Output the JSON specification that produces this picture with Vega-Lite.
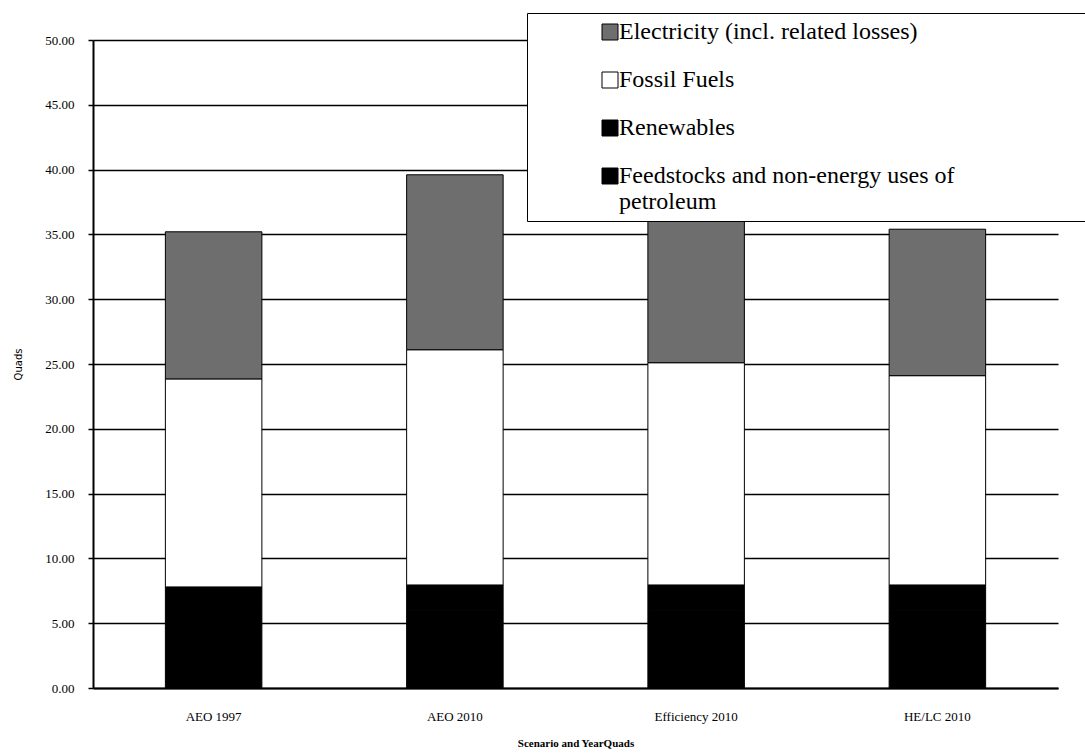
{
  "$schema": "https://vega.github.io/schema/vega-lite/v6.json",
  "width": 965,
  "height": 648,
  "autosize": "none",
  "padding": {"left": 93, "top": 40, "right": 27, "bottom": 68},
  "background": "white",
  "data": {
    "values": [
      {"scenario": "AEO 1997", "source": "Feedstocks and non-energy uses of petroleum", "stack": 1, "quads": 5.9},
      {"scenario": "AEO 1997", "source": "Renewables", "stack": 2, "quads": 1.9},
      {"scenario": "AEO 1997", "source": "Fossil Fuels", "stack": 3, "quads": 16.05},
      {"scenario": "AEO 1997", "source": "Electricity (incl. related losses)", "stack": 4, "quads": 11.35},
      {"scenario": "AEO 2010", "source": "Feedstocks and non-energy uses of petroleum", "stack": 1, "quads": 6.0},
      {"scenario": "AEO 2010", "source": "Renewables", "stack": 2, "quads": 1.95},
      {"scenario": "AEO 2010", "source": "Fossil Fuels", "stack": 3, "quads": 18.15},
      {"scenario": "AEO 2010", "source": "Electricity (incl. related losses)", "stack": 4, "quads": 13.5},
      {"scenario": "Efficiency 2010", "source": "Feedstocks and non-energy uses of petroleum", "stack": 1, "quads": 6.0},
      {"scenario": "Efficiency 2010", "source": "Renewables", "stack": 2, "quads": 1.95},
      {"scenario": "Efficiency 2010", "source": "Fossil Fuels", "stack": 3, "quads": 17.15},
      {"scenario": "Efficiency 2010", "source": "Electricity (incl. related losses)", "stack": 4, "quads": 12.4},
      {"scenario": "HE/LC 2010", "source": "Feedstocks and non-energy uses of petroleum", "stack": 1, "quads": 6.0},
      {"scenario": "HE/LC 2010", "source": "Renewables", "stack": 2, "quads": 1.95},
      {"scenario": "HE/LC 2010", "source": "Fossil Fuels", "stack": 3, "quads": 16.15},
      {"scenario": "HE/LC 2010", "source": "Electricity (incl. related losses)", "stack": 4, "quads": 11.3}
    ]
  },
  "mark": {"type": "bar", "stroke": "black", "strokeWidth": 1},
  "encoding": {
    "x": {
      "field": "scenario",
      "type": "nominal",
      "sort": ["AEO 1997", "AEO 2010", "Efficiency 2010", "HE/LC 2010"],
      "scale": {"paddingInner": 0.6, "paddingOuter": 0.3},
      "axis": {
        "title": "Scenario and YearQuads",
        "titleFont": "Liberation Serif",
        "titleFontSize": 11,
        "titleFontWeight": "bold",
        "titleColor": "black",
        "titleY": 55,
        "titleBaseline": "middle",
        "labelAngle": 0,
        "labelFont": "Liberation Serif",
        "labelFontSize": 13,
        "labelColor": "black",
        "labelPadding": 22,
        "ticks": false,
        "domainColor": "black",
        "domainWidth": 2,
        "grid": false
      }
    },
    "y": {
      "field": "quads",
      "type": "quantitative",
      "stack": "zero",
      "scale": {"domain": [0, 50], "nice": false},
      "axis": {
        "title": "Quads",
        "titleFont": "DejaVu Sans",
        "titleFontSize": 10,
        "titleFontWeight": "normal",
        "titleColor": "black",
        "titleX": -75,
        "titleY": 324,
        "titleAlign": "center",
        "titleBaseline": "middle",
        "values": [0, 5, 10, 15, 20, 25, 30, 35, 40, 45, 50],
        "format": ".2f",
        "labelFont": "Liberation Serif",
        "labelFontSize": 13,
        "labelColor": "black",
        "labelPadding": 14,
        "tickColor": "black",
        "tickSize": 5,
        "tickWidth": 1.5,
        "domainColor": "black",
        "domainWidth": 2,
        "grid": true,
        "gridColor": "black",
        "gridWidth": 1.5,
        "gridOpacity": 1
      }
    },
    "color": {
      "field": "source",
      "type": "nominal",
      "scale": {
        "domain": ["Electricity (incl. related losses)", "Fossil Fuels", "Renewables", "Feedstocks and non-energy uses of petroleum"],
        "range": ["#6e6e6e", "#ffffff", "#000000", "#000000"]
      },
      "legend": {
        "title": "\u00a0",
        "titleOrient": "right",
        "titlePadding": 140,
        "titleFontSize": 24,
        "orient": "none",
        "legendX": 434,
        "legendY": -27,
        "fillColor": "white",
        "strokeColor": "black",
        "padding": 7,
        "symbolType": "square",
        "symbolSize": 256,
        "symbolStrokeColor": "black",
        "symbolStrokeWidth": 1,
        "symbolOpacity": 1,
        "symbolOffset": 64,
        "labelOffset": -3,
        "labelFont": "Liberation Serif",
        "labelFontSize": 24,
        "labelColor": "black",
        "labelLimit": 800,
        "rowPadding": 24,
        "labelExpr": "datum.label == 'Feedstocks and non-energy uses of petroleum' ? ['Feedstocks and non-energy uses of', ' petroleum'] : datum.label"
      }
    },
    "order": {"field": "stack", "type": "quantitative"}
  },
  "config": {
    "view": {"stroke": null},
    "axis": {"gridCap": "butt"}
  }
}
